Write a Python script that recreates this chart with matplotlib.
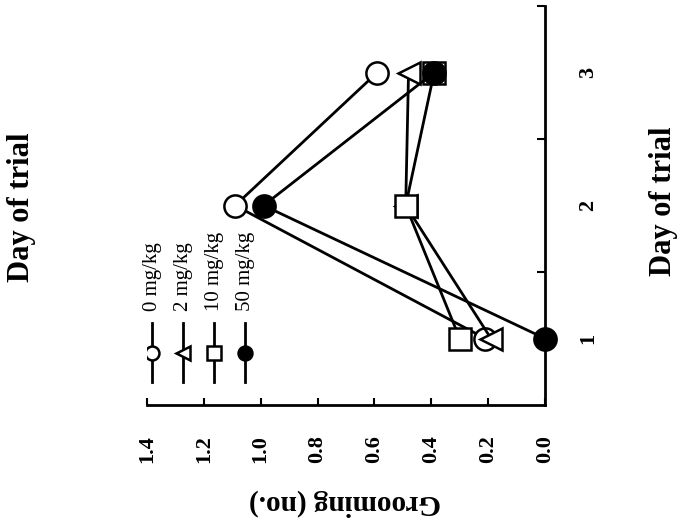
import matplotlib
matplotlib.use("Agg")
import matplotlib.pyplot as plt
from matplotlib.lines import Line2D

# data (chart is drawn turned a quarter turn: day runs up, grooming runs right-to-left)
days = [1, 2, 3]
doses = ["0 mg/kg", "2 mg/kg", "10 mg/kg", "50 mg/kg"]
grooming_0 = [0.21, 1.09, 0.59]
grooming_2 = [0.19, 0.49, 0.48]
grooming_10 = [0.30, 0.49, 0.39]
grooming_50 = [0.00, 0.99, 0.39]
series = [grooming_0, grooming_2, grooming_10, grooming_50]

markers = ["o", "<", "s", "o"]
faces = ["white", "white", "white", "black"]
x_ticks = [1.4, 1.2, 1.0, 0.8, 0.6, 0.4, 0.2, 0.0]
day_ticks = [1, 2, 3]
day_minor = [1.5, 2.5, 3.5]

plt.rcParams["font.family"] = ["Liberation Serif", "DejaVu Serif"]

fig = plt.figure(figsize=(6.94, 5.28), dpi=100)
ax = fig.add_axes([147 / 694, 1 - 405 / 528, 398 / 694, 399 / 528])

for vals, m, fc in zip(series, markers, faces):
    ax.plot(vals, days, color="black", lw=2.0, marker=m, ms=16,
            mfc=fc, mec="black", mew=1.8, clip_on=False)

ax.set_xlim(1.4, 0.0)
ax.set_ylim(0.5, 3.5)

ax.spines["left"].set_visible(False)
ax.spines["top"].set_visible(False)
ax.spines["bottom"].set_linewidth(2.0)
ax.spines["right"].set_linewidth(2.0)

ax.set_xticks(x_ticks)
ax.set_xticklabels([f"{v:.1f}" for v in x_ticks], rotation=90,
                   fontweight="bold", fontsize=16)
ax.tick_params(axis="x", direction="in", length=5, width=1.5, pad=22)

ax.yaxis.tick_right()
ax.set_yticks(day_ticks)
ax.set_yticklabels([str(d) for d in day_ticks], rotation=90,
                   fontweight="bold", fontsize=16, va="center")
ax.set_yticks(day_minor, minor=True)
ax.tick_params(axis="y", which="major", length=0, pad=24)
ax.tick_params(axis="y", which="minor", direction="in", length=6, width=1.5)

# legend, drawn vertically to follow the turned layout
for i, (name, m, fc) in enumerate(zip(doses, markers, faces)):
    lx = 0.013 + i * 0.078
    ax.add_line(Line2D([lx, lx], [0.058, 0.205], color="black", lw=2.0,
                       transform=ax.transAxes))
    ax.add_line(Line2D([lx], [0.13], marker=m, ms=10, mfc=fc, mec="black",
                       mew=1.8, color="black", transform=ax.transAxes))
    ax.text(lx, 0.235, name, rotation=90, ha="center", va="bottom",
            fontsize=15, transform=ax.transAxes)

fig.text(345 / 694, 1 - 503 / 528, "Grooming (no.)", rotation=180,
         ha="center", va="center", fontsize=21, fontweight="bold")
fig.text(663 / 694, 1 - 201 / 528, "Day of trial", rotation=90,
         ha="center", va="center", fontsize=22, fontweight="bold")
fig.text(22 / 694, 1 - 207 / 528, "Day of trial", rotation=90,
         ha="center", va="center", fontsize=22, fontweight="bold")

fig.savefig("out.png", dpi=100)
